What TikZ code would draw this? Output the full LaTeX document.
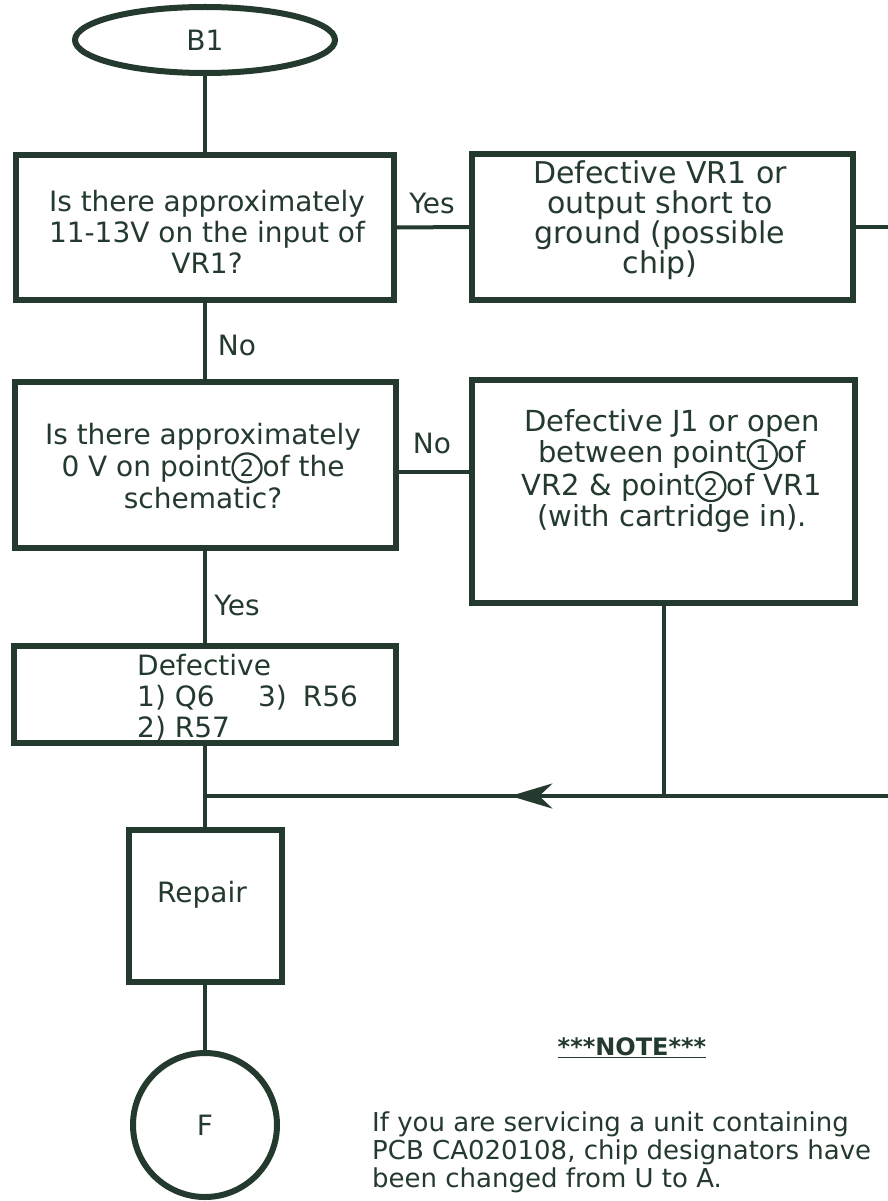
\documentclass[tikz,border=0pt]{standalone}
\usepackage{fontspec}
\setmainfont{DejaVu Sans}
\usetikzlibrary{shapes.geometric,arrows.meta,decorations.markings}
\definecolor{ink}{HTML}{243A2E}
\newcommand{\cnum}[1]{\tikz[baseline=(cn.base)]\node[draw=ink,circle,line width=2.2pt,inner sep=0.6pt,minimum size=29pt,text=ink,font=\fontsize{23}{23}\selectfont] (cn) {#1};}
\begin{document}
\begin{tikzpicture}[x=1pt,y=-1pt,
  every node/.style={text=ink},
  boxshape/.style={draw=ink,line width=6pt,inner sep=0pt,rectangle},
  conn/.style={draw=ink,line width=4pt},
  txt/.style={font=\fontsize{28}{31}\selectfont,align=center,inner sep=0pt},
  lbl/.style={font=\fontsize{28}{31}\selectfont,inner sep=0pt},
  notetxt/.style={font=\fontsize{26}{28}\selectfont,align=left,inner sep=0pt},
  backarrow/.style={postaction={decorate},decoration={markings,
     mark=at position 0.553 with {\arrow[ink]{Stealth[length=42pt,width=25pt,inset=13pt]}}}}]
\useasboundingbox (0,0) rectangle (888,1201);
\fill[white] (0,0) rectangle (888,1201);

% shapes
\node[boxshape,ellipse,minimum width=260pt,minimum height=66pt,font=\fontsize{28}{31}\selectfont] (ell) at (205,40) {B1};
\node[boxshape,minimum width=378pt,minimum height=145pt] (box1) at (205,227.5) {};
\node[boxshape,minimum width=381pt,minimum height=146pt] (box2) at (662.5,227) {};
\node[boxshape,minimum width=381pt,minimum height=166pt] (box3) at (205,465) {};
\node[boxshape,minimum width=383pt,minimum height=223pt] (box4) at (663.5,491.5) {};
\node[boxshape,minimum width=382pt,minimum height=97pt] (box5) at (205,694.5) {};
\node[boxshape,minimum width=153pt,minimum height=152pt] (rep) at (205,906) {};
\node[boxshape,circle,minimum size=144pt,font=\fontsize{28}{31}\selectfont] (F) at (205,1125) {F};

% texts
\node[txt] (t1) at (207,231.5) {Is there approximately\\11-13V on the input of\\VR1?};
\node[txt,font=\fontsize{30}{30}\selectfont] (t2) at (660,220) {Defective VR1 or\\output short to\\ground (possible\\chip)};
\node[txt,font=\fontsize{28}{32}\selectfont] (t3) at (203,466) {Is there approximately\\0 V on point\cnum{2}of the\\schematic?};
\node[txt,font=\fontsize{29}{31}\selectfont] (t4) at (672,471) {Defective J1 or open\\between point\cnum{1}of\\VR2 \& point\cnum{2}of VR1\\(with cartridge in).};
\node[txt,align=left,anchor=west] (t5) at (137,698) {Defective\\\makebox[121pt][l]{1) Q6}3)\hspace{16pt}R56\\2) R57};
\node[lbl] (t6) at (202,895) {Repair};

% branch labels
\node[lbl] (yes1) at (432,203) {Yes};
\node[lbl] (no1) at (237,345) {No};
\node[lbl] (no2) at (432,443) {No};
\node[lbl] (yes2) at (237,605) {Yes};

% note
\node[inner sep=0pt,font=\fontsize{24}{26}\bfseries\selectfont] (noteh) at (632,1048) {\underline{***NOTE***}};
\node[notetxt,anchor=west] (note) at (372,1152) {If you are servicing a unit containing\\PCB CA020108, chip designators have\\been changed from U to A.};

% connectors
\coordinate (r1) at (888,227);
\coordinate (r2) at (888,796);
\coordinate (j) at (205,796);
\draw[conn] (ell.south) -- (box1.north);
\draw[conn] (box1.east) -- (box2.west);
\draw[conn] (box2.east) -- (r1);
\draw[conn] (box1.south) -- (box3.north);
\draw[conn] (box3.east |- 0,472) -- (box4.west |- 0,472);
\draw[conn] (box3.south) -- (box5.north);
\draw[conn] (box5.south) -- (rep.north);
\draw[conn] (box4.south) -- (box4.south |- j);
\draw[conn,backarrow] (r2) -- (j);
\draw[conn] (rep.south) -- (F.north);
\end{tikzpicture}
\end{document}
